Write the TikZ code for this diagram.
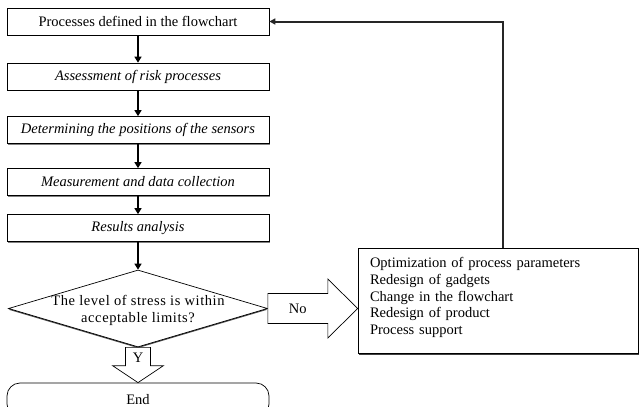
\documentclass[tikz,border=0pt]{standalone}
\usepackage{fontspec}
\setmainfont{Liberation Serif}
\usetikzlibrary{shapes.geometric,arrows.meta,shadows,calc}

\begin{document}
\begin{tikzpicture}[x=1pt,y=1pt,
	every node/.style={font=\fontsize{14.5}{16.7}\selectfont},
	process/.style={rectangle, draw, line width=0.7pt, fill=white, minimum width=262pt, minimum height=27pt, inner sep=0pt,
		drop shadow={shadow xshift=0.6pt, shadow yshift=-1.4pt, opacity=1, fill=black!50}},
	decision/.style={diamond, draw, line width=0.7pt, fill=white, minimum width=259pt, minimum height=77pt, inner sep=0pt,
		drop shadow={shadow xshift=0pt, shadow yshift=-1.2pt, opacity=1, fill=black!70}},
	terminal/.style={rectangle, rounded corners=13pt, draw, line width=0.7pt, minimum width=262pt, minimum height=34pt},
	actionbox/.style={rectangle, draw, line width=0.7pt, fill=white, text width=256pt, inner xsep=12pt, align=left, minimum height=105pt,
		drop shadow={shadow xshift=1pt, shadow yshift=-2pt, opacity=1, fill=black!75}},
	flow/.style={line width=1.4pt, -{Triangle[length=6pt,width=7pt]}},
	blockarrow/.style={draw, line width=0.7pt, fill=white}]
	\useasboundingbox (0,0) rectangle (641,-407);
	\clip (0,0) rectangle (641,-407);
	
	% Define nodes
	\node [process] (procdef) at (138,-21.5) {Processes defined in the flowchart};
	\node [process] (assess) at (138,-76.5) {\itshape Assessment of risk processes};
	\node [process] (sensors) at (138,-130) {\itshape Determining the positions of the sensors};
	\node [process] (measure) at (138,-182) {\itshape Measurement and data collection};
	\node [process] (results) at (138,-228) {\itshape Results analysis};
	\node [decision] (stress) at (138,-308.5) {};
	\node [align=center] (stresstext) at ($(stress)+(0,-2)$) {\addfontfeature{LetterSpace=4}The level of stress is within\\\addfontfeature{LetterSpace=4}acceptable limits?};
	\node [terminal] (finish) at (138,-400) {End};
	\node [actionbox] (actions) at (498,-300.5) {Optimization of process parameters\\Redesign of gadgets\\Change in the flowchart\\Redesign of product\\Process support\\[-8pt]\mbox{}};
	
	% Draw edges
	\draw [flow] (procdef) -- (assess);
	\draw [flow] (assess) -- (sensors);
	\draw [flow] (sensors) -- (measure);
	\draw [flow] (measure) -- (results);
	\draw [flow] (results) -- (stress);
	\draw [line width=2pt, black!85, -{Triangle[length=6pt,width=6pt]}] ([xshift=5pt]actions.north) |- (procdef.east);
	
	% Block arrows and their labels
	\draw [blockarrow] ($(stress.east)+(0,15)$) -- ++(60,0) -- ++(0,14.5) -- (actions.west |- stress.east)
		-- ($(stress.east)+(60,-29.5)$) -- ++(0,14.5) -- ($(stress.east)+(0,-15)$) -- cycle;
	\node (nolabel) at ($(stress.east)+(30,0)$) {No};
	\draw [blockarrow] ($(stress.south)+(-12.5,0)$) -- ($(finish.north)+(-12.5,17)$) -- ++(-13,0) -- (finish.north)
		-- ($(finish.north)+(25.5,17)$) -- ++(-13,0) -- ($(stress.south)+(12.5,0)$) -- cycle;
	\node (ylabel) at ($(stress.south)+(0,-10)$) {Y};
\end{tikzpicture}
\end{document}
